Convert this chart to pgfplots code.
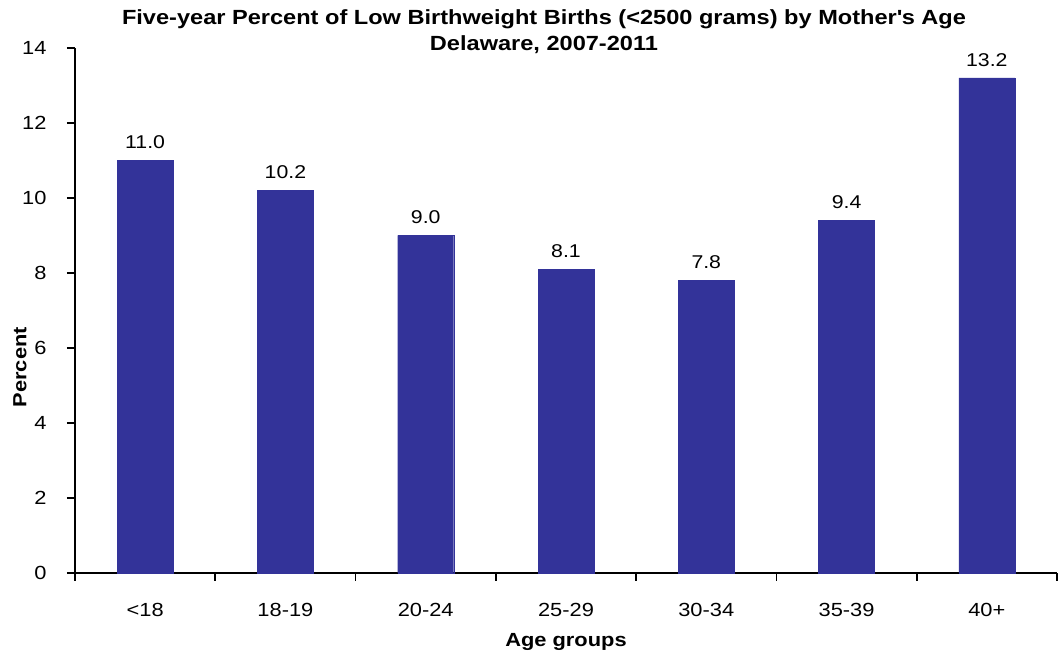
\documentclass[border=0pt]{standalone}
\usepackage{pgfplots}
\pgfplotsset{compat=1.18}
\usepackage{fontspec}
\setmainfont{Liberation Sans}[FakeStretch=1.15]
\definecolor{barblue}{RGB}{51,51,153}
\begin{document}
\begin{tikzpicture}
\useasboundingbox (-75pt,-82pt) rectangle (987pt,573pt);
\begin{axis}[
  at={(0pt,0pt)}, anchor=south west,
  scale only axis, width=982pt, height=525pt,
  xmin=-0.5, xmax=6.5, ymin=0, ymax=14,
  axis x line*=bottom, axis y line*=left,
  axis line style={line width=1.6pt, black},
  ytick={0,2,...,14},
  xtick={0,...,6},
  xticklabels={<18,18-19,20-24,25-29,30-34,35-39,40+},
  minor xtick={-0.5,0.5,...,6.5},
  major x tick style={draw=none},
  minor x tick style={line width=1.6pt, black},
  y tick style={line width=1.6pt, black},
  tick align=outside,
  major tick length=8pt, minor tick length=8pt,
  /pgf/number format/assume math mode=true,
  tick label style={font=\fontsize{19}{22}\selectfont},
  yticklabel style={xshift=-17pt},
  xticklabel style={yshift=-19pt},
  ylabel={\bfseries Percent},
  xlabel={\bfseries Age groups},
  label style={font=\fontsize{19}{22}\selectfont},
  ylabel style={at={(axis description cs:-0.056,0.392)}, anchor=center},
  xlabel style={at={(axis description cs:0.5,0)}, anchor=center, yshift=-69pt},
  ybar, bar width=56pt,
  nodes near coords,
  nodes near coords style={font=\fontsize{18.5}{22}\selectfont, /pgf/number format/fixed, /pgf/number format/precision=1, /pgf/number format/fixed zerofill, /pgf/number format/assume math mode=true, yshift=8pt},
  clip=false,
]
\addplot[fill=barblue, draw=barblue] coordinates {(0,11.0) (1,10.2) (2,9.0) (3,8.1) (4,7.8) (5,9.4) (6,13.2)};
\end{axis}
\node[font=\fontsize{20.5}{26}\selectfont\bfseries, align=center] at (469pt,541pt) {Five-year Percent of Low Birthweight Births (<2500 grams) by Mother\textquotesingle s Age\\Delaware, 2007-2011};
\end{tikzpicture}
\end{document}
